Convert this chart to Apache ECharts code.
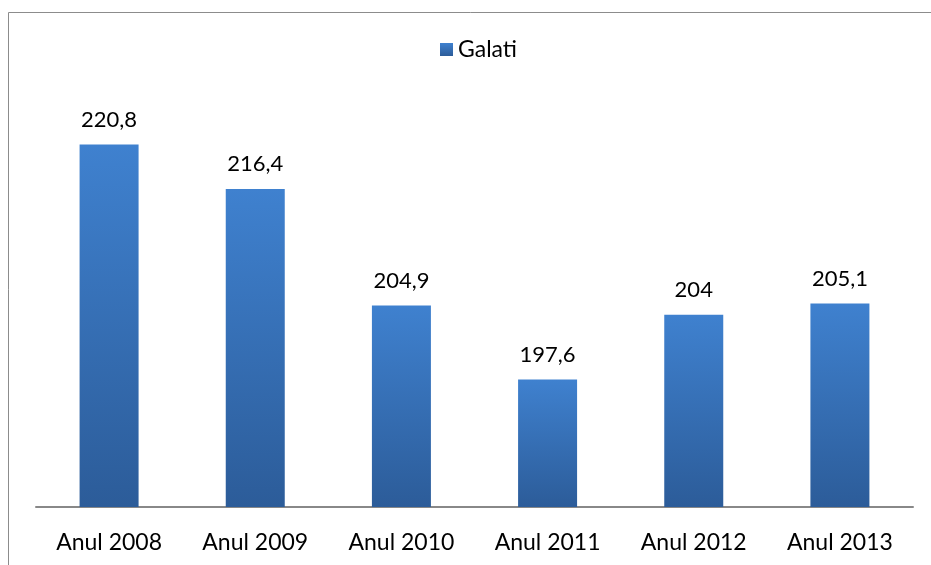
<!DOCTYPE html>
<html><head><meta charset="utf-8">
<script src="https://cdn.jsdelivr.net/npm/echarts@6/dist/echarts.min.js"></script>
<style>html,body{margin:0;padding:0;background:#fff}#c{width:931px;height:565px}</style>
</head><body><div id="c"></div>
<script>
const categories = ['Anul 2008','Anul 2009','Anul 2010','Anul 2011','Anul 2012','Anul 2013'];
const seriesName = 'Galati';
const values = [220.8, 216.4, 204.9, 197.6, 204, 205.1];
const labels = ['220,8','216,4','204,9','197,6','204','205,1'];

const chart = echarts.init(document.getElementById('c'));
const font = 'Lato, "Open Sans", sans-serif';
chart.setOption({
  animation: false,
  backgroundColor: '#fff',
  graphic: [{type:'rect', shape:{x:8.5,y:12.5,width:940,height:600}, style:{fill:'none', stroke:'#8c8c8c', lineWidth:1}, z:-1}],
  legend: {
    data:[{name:seriesName, icon:'rect'}], top: 33, left: 435, itemWidth: 13, itemHeight: 13, itemGap: 6,
    textStyle:{fontFamily:font, fontSize:23, color:'#000'}
  },
  grid: {left:36, right:18, top:102, bottom:58},
  xAxis: {
    type:'category', data: categories,
    axisLine:{lineStyle:{color:'#888', width:2}}, axisTick:{show:false},
    axisLabel:{fontFamily:font, fontSize:23, color:'#000', margin:24}
  },
  yAxis: {type:'value', min:185, max:225, show:false, splitLine:{show:false}},
  series: [{
    name: seriesName, type:'bar', barWidth:59,
    data: values,
    itemStyle:{color: new echarts.graphic.LinearGradient(0,0,0,1,[{offset:0,color:'#3F81CF'},{offset:1,color:'#2C5C99'}])},
    label:{show:true, position:'top', distance:14, fontFamily:font, fontSize:22, color:'#000',
      formatter: p => labels[p.dataIndex]}
  }]
});
</script></body></html>
